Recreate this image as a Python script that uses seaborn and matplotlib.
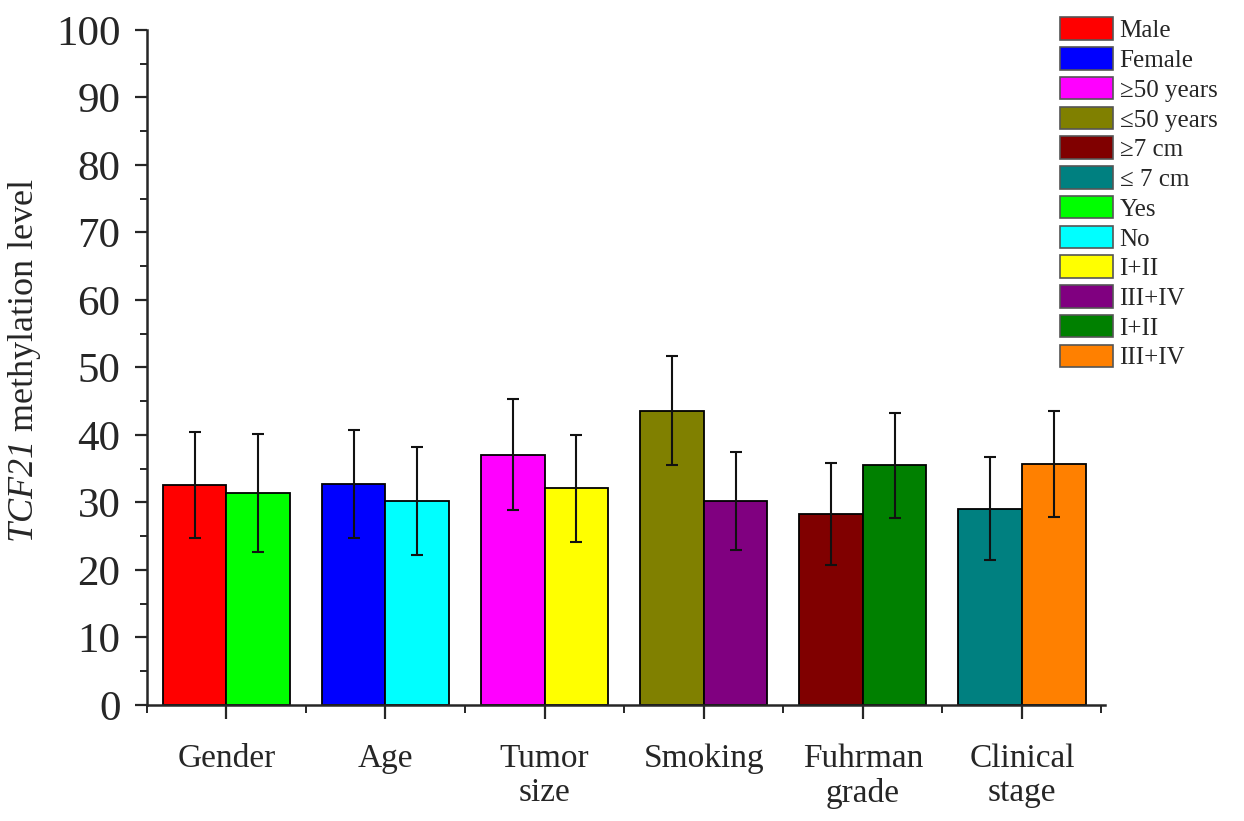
import matplotlib
matplotlib.use("Agg")
import matplotlib.pyplot as plt
import matplotlib.patches as mpatches
import seaborn as sns
import pandas as pd
from matplotlib.ticker import MultipleLocator, FixedLocator

# Data
groups = ["Gender", "Age", "Tumor\nsize", "Smoking", "Fuhrman\ngrade", "Clinical\nstage"]
first_means = [32.6, 32.7, 37.1, 43.6, 28.3, 29.1]
first_errs = [7.9, 8.0, 8.2, 8.1, 7.6, 7.6]
second_means = [31.4, 30.2, 32.1, 30.2, 35.5, 35.7]
second_errs = [8.7, 8.0, 7.9, 7.3, 7.8, 7.8]
first_colors = ["#ff0000", "#0000ff", "#ff00ff", "#808000", "#800000", "#008080"]
second_colors = ["#00ff00", "#00ffff", "#ffff00", "#800080", "#008000", "#ff8000"]

legend_labels = ["Male", "Female", "≥50 years", "≤50 years", "≥7 cm", "≤ 7 cm",
                 "Yes", "No", "I+II", "III+IV", "I+II", "III+IV"]
legend_colors = ["#ff0000", "#0000ff", "#ff00ff", "#808000", "#800000", "#008080",
                 "#00ff00", "#00ffff", "#ffff00", "#800080", "#008000", "#ff8000"]

sns.set_style("ticks")
plt.rcParams["font.family"] = ["Liberation Serif", "DejaVu Serif"]
# math text only used for the italic gene name (digits too)
plt.rcParams["mathtext.fontset"] = "custom"
plt.rcParams["mathtext.rm"] = "Liberation Serif:italic"
plt.rcParams["mathtext.it"] = "Liberation Serif:italic"

df = pd.DataFrame({
    "group": groups * 2,
    "side": ["first"] * len(groups) + ["second"] * len(groups),
    "value": first_means + second_means,
})

fig = plt.figure(figsize=(12.44, 8.21), dpi=100)
ax = fig.add_axes([0.118, 0.1413, 0.770, 0.8222])

sns.barplot(data=df, x="group", y="value", hue="side", order=groups,
            hue_order=["first", "second"], width=0.8, errorbar=None,
            edgecolor="black", linewidth=1.3, legend=False, ax=ax)

all_colors = [first_colors, second_colors]
all_errs = [first_errs, second_errs]
for cont, cols, errs in zip(ax.containers, all_colors, all_errs):
    xs, ys = [], []
    for bar, c in zip(cont, cols):
        bar.set_facecolor(c)
        xs.append(bar.get_x() + bar.get_width() / 2)
        ys.append(bar.get_height())
    ax.errorbar(xs, ys, yerr=errs, fmt="none", ecolor="#111111",
                elinewidth=1.5, capsize=4, capthick=1.5, zorder=5)

ax.set_xlim(-0.5, 5.52)
ax.set_ylim(0, 100)
ax.yaxis.set_major_locator(MultipleLocator(10))
ax.yaxis.set_minor_locator(MultipleLocator(5))
ax.xaxis.set_minor_locator(FixedLocator([-0.5, 0.5, 1.5, 2.5, 3.5, 4.5, 5.5]))

sns.despine(ax=ax)
ax.spines["left"].set_linewidth(1.8)
ax.spines["bottom"].set_linewidth(1.8)

ax.tick_params(axis="y", which="major", direction="out", length=9, width=1.6,
               labelsize=31, pad=10)
ax.tick_params(axis="y", which="minor", direction="out", length=5, width=1.4)
ax.tick_params(axis="x", which="major", direction="out", length=10, width=1.6,
               labelsize=24, pad=18)
ax.tick_params(axis="x", which="minor", direction="out", length=6, width=1.4)
for lbl in ax.get_xticklabels():
    lbl.set_linespacing(1.15)
    lbl.set_verticalalignment("top")

ax.set_xlabel("")
ax.set_ylabel(r"$\mathrm{TCF21}$ methylation level", fontsize=26)
ax.yaxis.set_label_coords(-0.108, 0.51)

handles = [mpatches.Patch(facecolor=c, edgecolor="#555555", linewidth=1.2)
           for c in legend_colors]
fig.legend(handles, legend_labels, loc="upper left",
           bbox_to_anchor=(1057 / 1244, 1 - 15 / 821), frameon=False,
           fontsize=18, handlelength=2.15, handleheight=1.0,
           handletextpad=0.25, labelspacing=0.2, borderaxespad=0,
           borderpad=0.1)

fig.savefig("out.png", dpi=100)
